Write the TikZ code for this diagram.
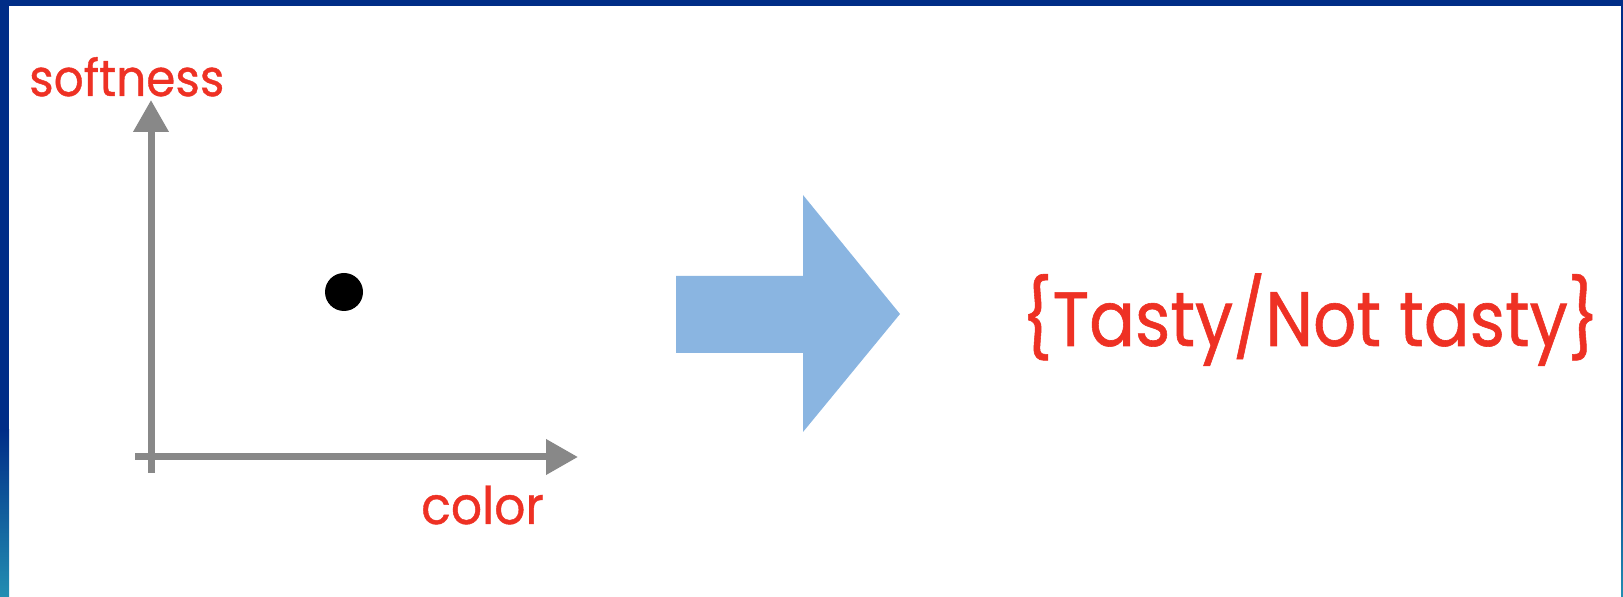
\documentclass[tikz,border=0pt]{standalone}
\usepackage{fontspec}
\setmainfont{Poppins}[FakeBold=0.8]
\usetikzlibrary{arrows.meta}
\definecolor{navy}{RGB}{0,45,135}
\definecolor{tealb}{RGB}{35,142,178}
\definecolor{lblred}{RGB}{238,49,36}
\definecolor{axisgray}{RGB}{136,136,136}
\definecolor{bigblue}{RGB}{138,181,225}
\tikzset{
  lbl/.style={text=lblred, inner sep=0pt, anchor=base west},
  axis/.style={draw=axisgray, line width=7pt, -{Triangle[length=32pt,width=34pt]}},
}
\begin{document}
\begin{tikzpicture}[x=1pt,y=1pt]
\useasboundingbox (0,0) rectangle (1623,597);
% frame
\fill[navy] (0,591) rectangle (1623,597);
\fill[navy] (0,167) rectangle (9,597);
\shade[top color=navy, bottom color=tealb] (0,0) rectangle (9,167.5);
\fill[navy] (1621,167) rectangle (1623,597);
\shade[top color=navy, bottom color=tealb] (1621,0) rectangle (1623,167.5);
% axes
\coordinate (vbot) at (151,124);
\coordinate (vtop) at (151,497);
\coordinate (hleft) at (135,140);
\coordinate (hright) at (578,140);
\draw[axis] (vbot) -- (vtop);
\draw[axis] (hleft) -- (hright);
\fill[black] (344,305) circle[radius=19];
% labels
\node[lbl, font=\fontsize{51}{56}\selectfont] (soft) at (29,501) {\scalebox{0.92}[1]{softness}};
\node[lbl, font=\fontsize{52}{56}\selectfont] (col) at (421,73) {\scalebox{0.94}[1]{color}};
% big arrow
\fill[bigblue] (676,321) -- (803,321) -- (803,402) -- (900,283) -- (803,165) -- (803,244) -- (676,244) -- cycle;
\node[lbl, font=\fontsize{77}{84}\selectfont] (res) at (1021,251) {\scalebox{0.88}[1]{\{Tasty/Not tasty\}}};
\end{tikzpicture}
\end{document}
